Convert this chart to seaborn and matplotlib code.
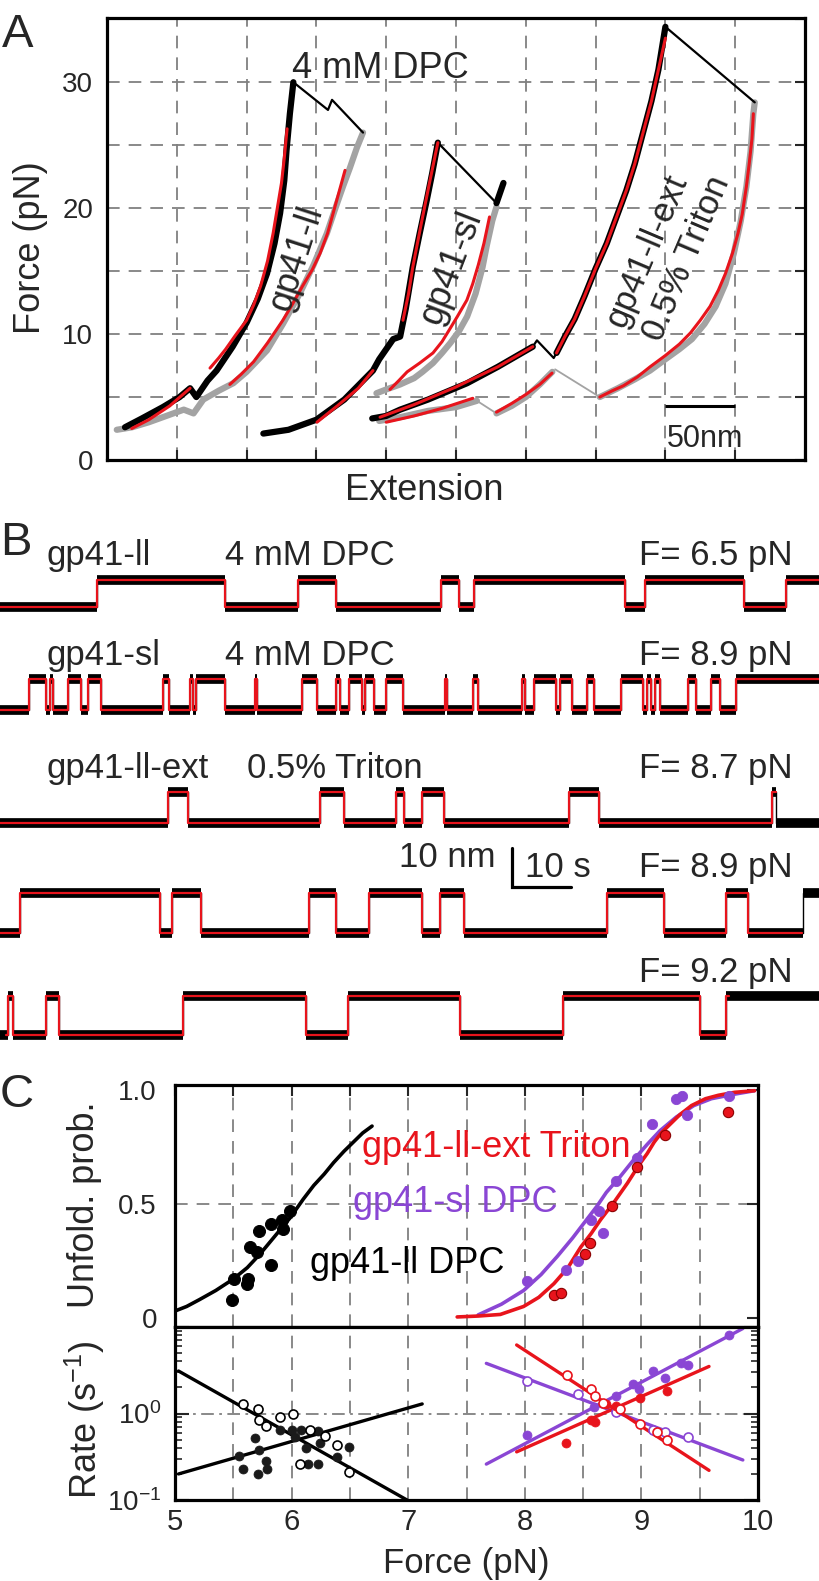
import matplotlib
matplotlib.use("Agg")
import matplotlib.pyplot as plt
import numpy as np
import seaborn as sns

# ---------------- Panel A : force-extension curves (nm, pN) ----------------
# gp41-ll in 4 mM DPC
ll_str_ext = [12.9, 25, 40, 52, 59.5, 64, 72, 78.5, 90, 100, 108, 114.6, 120, 124, 127, 128.6, 131, 133.5]
ll_str_f = [2.6, 3.3, 4.2, 5.0, 5.7, 5.0, 6.3, 7.1, 9.0, 10.9, 12.8, 14.8, 17.2, 19.6, 22.2, 24.6, 27.5, 30.0]
ll_jump_ext = [133.5, 158.3, 161.2, 183.4]
ll_jump_f = [30.0, 27.8, 28.6, 26.0]
ll_rel_ext = [183.4, 179, 174, 169, 163, 157.5, 148, 138, 126, 114.6, 100, 90.5, 80, 69, 62, 55, 45, 30, 18, 7]
ll_rel_f = [26.0, 24.8, 23.2, 21.7, 19.8, 18.0, 15.5, 13.2, 10.8, 8.7, 7.0, 6.1, 5.5, 4.8, 3.7, 4.0, 3.6, 3.0, 2.6, 2.4]
ll_fit1_ext = [17.7, 30, 45, 59.5]
ll_fit1_f = [2.5, 3.2, 4.3, 5.7]
ll_fit2_ext = [73.8, 80, 85, 92, 100, 105, 110, 115, 119, 122, 125, 127, 129]
ll_fit2_f = [7.3, 8.1, 8.8, 9.9, 11.1, 12.3, 13.8, 15.8, 18.0, 20.0, 22.0, 24.0, 26.3]
ll_fit3_ext = [88, 96, 105, 115, 126, 133, 140, 147, 152.6, 158, 162, 166, 170.5]
ll_fit3_f = [6.0, 6.8, 7.8, 9.3, 11.1, 12.4, 13.8, 15.1, 16.4, 18.0, 19.6, 21.2, 23.0]

# gp41-sl in 4 mM DPC
sl_str_ext = [112, 130, 150, 170, 190.5, 195, 200, 205, 210, 214, 219, 224, 229, 233, 237]
sl_str_f = [2.1, 2.4, 3.2, 4.8, 7.1, 8.0, 8.8, 9.6, 9.8, 12.0, 15.3, 18.0, 20.6, 22.8, 25.2]
sl_jump_ext = [237, 279]
sl_jump_f = [25.2, 20.4]
sl_tail_ext = [279, 284]
sl_tail_f = [20.4, 22.0]
sl_rel_ext = [279, 276, 272, 269, 264, 258, 252, 246, 240, 233.5, 226, 220, 210, 200, 193]
sl_rel_f = [20.1, 19.0, 17.0, 15.3, 13.2, 11.4, 10.2, 9.3, 8.5, 7.7, 7.0, 6.5, 6.0, 5.6, 5.3]
sl_fit1_ext = [150.4, 165, 180, 190.5]
sl_fit1_f = [3.0, 4.3, 5.7, 7.1]
sl_fit2_ext = [212, 216, 219, 225, 231, 237]
sl_fit2_f = [11.1, 13.2, 15.3, 18.7, 22.0, 25.2]
sl_fit3_ext = [202.7, 209, 215, 224, 233.5, 240, 245, 251, 257.8, 262, 266, 270, 274]
sl_fit3_f = [5.6, 6.3, 7.0, 7.7, 8.5, 9.4, 10.3, 11.4, 12.7, 14.0, 15.5, 17.2, 19.3]

# gp41-ll-ext in 0.5% Triton
ext_str1_ext = [190, 200, 210, 230, 258, 280, 305]
ext_str1_f = [3.3, 3.5, 4.0, 4.8, 6.1, 7.4, 9.0]
ext_z_ext = [305, 308, 320, 322]
ext_z_f = [9.0, 9.5, 8.1, 8.5]
ext_str2_ext = [322, 328, 335, 342, 350, 358, 365, 372, 378, 384, 390, 395, 400]
ext_str2_f = [8.5, 9.8, 11.2, 13.0, 15.2, 17.2, 19.3, 21.4, 23.5, 26.0, 28.5, 31.0, 34.4]
ext_jump_ext = [400, 464]
ext_jump_f = [34.4, 28.4]
ext_rel1_ext = [464, 463, 461, 458, 454, 449, 443, 436, 428, 419, 410, 400, 389, 378, 366, 353]
ext_rel1_f = [28.4, 27.5, 24.5, 21.7, 19.0, 16.4, 14.0, 12.2, 10.8, 9.6, 8.8, 8.0, 7.1, 6.4, 5.7, 5.0]
ext_thin1_ext = [353, 321]
ext_thin1_f = [5.0, 7.2]
ext_rel2_ext = [319, 310, 300, 290, 279]
ext_rel2_f = [7.0, 6.0, 5.0, 4.3, 3.7]
ext_thin2_ext = [279, 265]
ext_thin2_f = [3.7, 4.7]
ext_rel3_ext = [265, 250, 230, 210, 195]
ext_rel3_f = [4.7, 4.2, 3.9, 3.4, 3.1]
ext_fit1_ext = [195.6, 220, 250, 280, 305]
ext_fit1_f = [3.4, 4.4, 5.8, 7.4, 9.0]
ext_fit2_ext = [200, 220, 240, 262]
ext_fit2_f = [3.0, 3.5, 4.1, 4.9]
ext_fit3_ext = [279, 290, 300, 310, 318.8]
ext_fit3_f = [3.8, 4.5, 5.2, 6.0, 6.9]
ext_fit4_ext = [322, 328, 335, 342, 350, 358, 365, 372, 378, 384, 390, 395, 400]
ext_fit4_f = [8.5, 9.8, 11.2, 13.0, 15.2, 17.2, 19.3, 21.4, 23.5, 26.0, 28.5, 31.0, 33.5]
ext_fit5_ext = [353, 362, 370, 380, 389, 400, 410, 418, 425, 432, 438, 443, 448, 452, 455, 458, 460, 462, 463]
ext_fit5_f = [5.0, 5.5, 5.9, 6.6, 7.4, 8.3, 9.2, 10.1, 11.1, 12.2, 13.5, 14.8, 16.4, 18.0, 19.5, 21.7, 23.5, 25.5, 27.5]

# ---------------- Panel B : extension vs time traces ----------------
b_switch_1 = [16.4, 38.1, 50.5, 56.9, 74.7, 77.8, 80.3, 105.9, 109.3, 126.1, 133.2]
b_switch_2 = [4.9, 7.8, 8.5, 8.9, 11.6, 13.8, 14.9, 17.1, 27.6, 28.6, 32.2, 32.7, 33.2,
              38.1, 43.2, 43.6, 51.2, 53.8, 56.9, 57.7, 59.2, 61.4, 61.8, 63.4, 65.4,
              68.3, 75.4, 75.8, 80.1, 81.1, 88.5, 89.0, 90.6, 94.3, 95.0, 97.0, 99.5,
              100.7, 105.3, 109.0, 109.6, 110.3, 111.0, 111.9, 116.6, 117.9, 120.6,
              122.1, 124.8]
b_switch_3 = [28.5, 31.8, 54.3, 58.3, 67.2, 68.5, 71.6, 75.2, 96.5, 101.6, 130.8, 131.5]
b_switch_4 = [3.4, 27.1, 29.2, 34.1, 52.3, 56.9, 62.5, 71.6, 74.6, 78.7, 102.9, 112.5,
              123.0, 126.8, 136.1]
b_switch_5 = [1.3, 2.2, 7.8, 10.0, 31.1, 51.9, 59.0, 78.0, 95.5, 118.6, 123.1]
b_base = [113.6, 87.2, 58.2, 30.0, 3.8]      # nm offset of folded level
b_step = [6.9, 7.9, 8.0, 10.3, 10.0]         # nm step size
b_fit_start = [0.0, 0.0, 0.0, 0.0, 1.0]
b_fit_end = [139.0, 139.0, 131.5, 135.9, 123.6]
b_t_end = 139.0

# ---------------- Panel C : unfolding probability and rates ----------------
ll_pt_force = [5.49, 5.51, 5.63, 5.64, 5.70, 5.72, 5.82, 5.82, 5.92, 5.93, 5.99, 5.62]
ll_pt_prob = [0.08, 0.17, 0.17, 0.31, 0.29, 0.38, 0.23, 0.41, 0.43, 0.39, 0.47, 0.15]
ll_fit_force = [5.0, 5.1, 5.21, 5.35, 5.5, 5.62, 5.73, 5.86, 5.99, 6.1, 6.19, 6.28, 6.36,
                6.45, 6.53, 6.61, 6.69]
ll_fit_prob = [0.03, 0.05, 0.08, 0.12, 0.17, 0.22, 0.28, 0.36, 0.44, 0.52, 0.58, 0.63, 0.68,
               0.73, 0.77, 0.81, 0.84]

sl_pt_force = [8.02, 8.35, 8.46, 8.57, 8.64, 8.67, 8.78, 8.96, 9.09, 9.30, 9.35, 9.39, 9.75]
sl_pt_prob = [0.16, 0.21, 0.25, 0.43, 0.47, 0.37, 0.60, 0.70, 0.85, 0.96, 0.97, 0.89, 0.97]
sl_fit_force = [7.60, 7.8, 7.99, 8.14, 8.28, 8.41, 8.53, 8.62, 8.70, 8.82, 8.93, 9.05, 9.16,
                9.3, 9.45, 9.6, 9.8, 9.97]
sl_fit_prob = [0.013, 0.06, 0.12, 0.19, 0.27, 0.35, 0.43, 0.49, 0.55, 0.62, 0.69, 0.76, 0.82,
               0.88, 0.93, 0.96, 0.98, 0.995]

ext_pt_force = [8.25, 8.31, 8.52, 8.56, 8.75, 8.96, 9.20, 9.74]
ext_pt_prob = [0.10, 0.11, 0.28, 0.33, 0.49, 0.66, 0.80, 0.90]
ext_fit_force = [7.42, 7.6, 7.79, 7.99, 8.12, 8.25, 8.37, 8.48, 8.57, 8.65, 8.77, 8.88, 8.98,
                 9.05, 9.11, 9.17, 9.23, 9.33, 9.43, 9.55, 9.66, 9.8, 9.97]
ext_fit_prob = [0.004, 0.008, 0.015, 0.05, 0.09, 0.15, 0.22, 0.31, 0.37, 0.43, 0.51, 0.59, 0.67,
                0.72, 0.77, 0.81, 0.84, 0.89, 0.93, 0.96, 0.975, 0.988, 0.995]

# rates (1/s)
ll_open_force = [5.58, 5.71, 5.72, 5.78, 5.90, 6.01, 6.16, 6.29, 6.39, 6.07, 6.49]
ll_open_rate = [1.29, 1.13, 0.85, 0.71, 0.91, 1.0, 0.64, 0.55, 0.43, 0.26, 0.21]
ll_fill_force = [5.55, 5.58, 5.69, 5.72, 5.78, 5.71, 5.79, 5.90, 6.0, 6.03, 6.08, 6.12,
                 6.14, 6.23, 6.23, 6.24, 6.39, 6.49]
ll_fill_rate = [0.32, 0.23, 0.52, 0.38, 0.28, 0.20, 0.23, 0.65, 0.65, 0.54, 0.64, 0.40,
                0.26, 0.63, 0.26, 0.45, 0.31, 0.41]
ll_line_dn = ([5.03, 6.99], [3.1, 0.10])
ll_line_up = ([5.03, 7.12], [0.20, 1.29])

sl_fill_force = [8.02, 8.59, 8.78, 8.93, 8.98, 9.10, 9.20, 9.34, 9.40, 9.75]
sl_fill_rate = [0.56, 1.18, 1.6, 2.17, 1.91, 3.08, 2.58, 3.83, 3.67, 8.06]
sl_open_force = [8.02, 8.46, 8.78, 9.10, 9.20, 9.40]
sl_open_rate = [2.37, 1.67, 1.03, 0.64, 0.61, 0.54]
sl_line_dn = ([7.67, 9.87], [3.8, 0.29])
sl_line_up = ([7.67, 9.87], [0.26, 9.6])

ext_fill_force = [8.35, 8.57, 8.60, 8.70, 8.78, 8.99, 9.22]
ext_fill_rate = [0.45, 0.83, 0.80, 1.29, 1.23, 1.53, 1.83]
ext_open_force = [8.36, 8.57, 8.60, 8.67, 8.82, 8.99, 9.13, 9.22]
ext_open_rate = [2.82, 1.91, 1.60, 1.34, 1.13, 0.76, 0.61, 0.49]
ext_line_dn = ([7.93, 9.58], [6.2, 0.22])
ext_line_up = ([7.93, 9.58], [0.36, 3.5])

# ---------------- style ----------------
sns.set_style("white")
plt.rcParams['font.family'] = ['Liberation Sans', 'DejaVu Sans']
plt.rcParams['mathtext.fontset'] = 'custom'
plt.rcParams['mathtext.rm'] = 'Liberation Sans'
plt.rcParams['mathtext.it'] = 'Liberation Sans'

BLACK = '#000000'
GRAY = '#a3a3a3'
RED = '#e8141c'
PURPLE = '#8a46d4'
GRID = '#808080'

W, H = 820, 1581
fig = plt.figure(figsize=(W / 100, H / 100), dpi=100)


def box(l, t, r, b):
    return [l / W, 1 - b / H, (r - l) / W, (b - t) / H]


def ftext(x, y, s, **kw):
    fig.text(x / W, 1 - y / H, s, **kw)


def line(ax, xs, ys, color, lw):
    sns.lineplot(x=xs, y=ys, sort=False, estimator=None, color=color, lw=lw,
                 ax=ax, legend=False, solid_capstyle='round', solid_joinstyle='round')


def dgrid(ax, xs=(), ys=(), dashes=(7, 5)):
    for v in xs:
        ax.axvline(v, color=GRID, lw=1.3, dashes=dashes, zorder=0)
    for v in ys:
        ax.axhline(v, color=GRID, lw=1.3, dashes=dashes, zorder=0)


# ================= Panel A =================
axA = fig.add_axes(box(107, 18, 805, 460))
dgrid(axA, xs=range(50, 500, 50), ys=range(5, 35, 5))

for xs, ys in [(ll_rel_ext, ll_rel_f), (sl_rel_ext, sl_rel_f), (ext_rel1_ext, ext_rel1_f),
               (ext_rel2_ext, ext_rel2_f), (ext_rel3_ext, ext_rel3_f)]:
    line(axA, xs, ys, GRAY, 4.5)
for xs, ys in [(ext_thin1_ext, ext_thin1_f), (ext_thin2_ext, ext_thin2_f)]:
    line(axA, xs, ys, GRAY, 1.3)
for xs, ys in [(ll_str_ext, ll_str_f), (sl_str_ext, sl_str_f), (sl_tail_ext, sl_tail_f),
               (ext_str1_ext, ext_str1_f), (ext_str2_ext, ext_str2_f)]:
    line(axA, xs, ys, BLACK, 4.5)
for xs, ys in [(ll_jump_ext, ll_jump_f), (sl_jump_ext, sl_jump_f), (ext_z_ext, ext_z_f),
               (ext_jump_ext, ext_jump_f)]:
    line(axA, xs, ys, BLACK, 1.6)
for xs, ys in [(ll_fit1_ext, ll_fit1_f), (ll_fit2_ext, ll_fit2_f), (ll_fit3_ext, ll_fit3_f),
               (sl_fit1_ext, sl_fit1_f), (sl_fit2_ext, sl_fit2_f), (sl_fit3_ext, sl_fit3_f),
               (ext_fit1_ext, ext_fit1_f), (ext_fit2_ext, ext_fit2_f), (ext_fit3_ext, ext_fit3_f),
               (ext_fit4_ext, ext_fit4_f), (ext_fit5_ext, ext_fit5_f)]:
    line(axA, xs, ys, RED, 2.2)

# 50 nm scale bar
axA.plot([400, 450], [4.3, 4.3], color=BLACK, lw=2.2, solid_capstyle='butt')

axA.set_xlim(0, 500)
axA.set_ylim(0, 35.1)
axA.set_xticks(range(0, 501, 50))
axA.set_xticklabels([])
axA.set_yticks(range(0, 36, 5))
axA.set_yticklabels(['0', '', '10', '', '20', '', '30', ''])
axA.tick_params(direction='in', length=7, width=1.5, bottom=True, right=True, left=False,
                labelsize=20, pad=10)
axA.set_xlabel('')
axA.set_ylabel('')
for sp in axA.spines.values():
    sp.set_linewidth(2.3)
    sp.set_color(BLACK)

ftext(2, 47, 'A', fontsize=34, va='baseline')
ftext(31, 248, 'Force (pN)', fontsize=26, rotation=90, ha='center', va='center')
ftext(424, 500, 'Extension', fontsize=26, ha='center', va='baseline')
ftext(292, 78, '4 mM DPC', fontsize=26, va='baseline')
ftext(667, 447, '50nm', fontsize=22, va='baseline')
ftext(297, 258, 'gp41-ll', fontsize=26, rotation=72, ha='center', va='center',
      rotation_mode='anchor')
ftext(451, 268, 'gp41-sl', fontsize=26, rotation=69, ha='center', va='center',
      rotation_mode='anchor')
ftext(647, 251, 'gp41-ll-ext', fontsize=25, rotation=67, ha='center', va='center',
      rotation_mode='anchor')
ftext(687, 258, '0.5% Triton', fontsize=25, rotation=67, ha='center', va='center',
      rotation_mode='anchor')

# ================= Panel B =================
axB = fig.add_axes(box(0, 495, 820, 1050))
switches = [b_switch_1, b_switch_2, b_switch_3, b_switch_4, b_switch_5]
for k, sw in enumerate(switches):
    edges = [0.0] + sw + [b_t_end]
    lev = [b_base[k] + b_step[k] * (i % 2) for i in range(len(edges) - 1)]
    axB.step(edges, lev + [lev[-1]], where='post', color=BLACK, lw=1.0)
    axB.hlines(lev, edges[:-1], edges[1:], color=BLACK, lw=7, capstyle='butt')
    t0, t1 = b_fit_start[k], b_fit_end[k]
    r_edges = [t0] + [t for t in sw if t0 < t < t1] + [t1]
    r_lev = [b_base[k] + b_step[k] * (np.searchsorted(sw, t, side='right') % 2)
             for t in r_edges[:-1]]
    axB.step(r_edges, r_lev + [r_lev[-1]], where='post', color=RED, lw=1.6)

# 10 nm / 10 s scale bar
axB.plot([86.8, 86.8, 96.8], [51.8, 41.8, 41.8], color=BLACK, lw=2.3,
         solid_joinstyle='miter')
axB.set_xlim(0, 139)
axB.set_ylim(0, 142.3)
axB.axis('off')

ftext(0, 555, 'B', fontsize=34, va='baseline')
ftext(47, 565, 'gp41-ll', fontsize=25, va='baseline')
ftext(225, 565, '4 mM DPC', fontsize=25, va='baseline')
ftext(793, 565, 'F= 6.5 pN', fontsize=25, va='baseline', ha='right')
ftext(47, 665, 'gp41-sl', fontsize=25, va='baseline')
ftext(225, 665, '4 mM DPC', fontsize=25, va='baseline')
ftext(793, 665, 'F= 8.9 pN', fontsize=25, va='baseline', ha='right')
ftext(47, 778, 'gp41-ll-ext', fontsize=25, va='baseline')
ftext(247, 778, '0.5% Triton', fontsize=25, va='baseline')
ftext(793, 778, 'F= 8.7 pN', fontsize=25, va='baseline', ha='right')
ftext(496, 867, '10 nm', fontsize=25, va='baseline', ha='right')
ftext(525, 877, '10 s', fontsize=25, va='baseline')
ftext(793, 877, 'F= 8.9 pN', fontsize=25, va='baseline', ha='right')
ftext(793, 982, 'F= 9.2 pN', fontsize=25, va='baseline', ha='right')

# ================= Panel C (top) =================
axC1 = fig.add_axes(box(175, 1085, 758, 1327))
dgrid(axC1, xs=np.arange(5.5, 10, 0.5), ys=[0.5])
line(axC1, ll_fit_force, ll_fit_prob, BLACK, 2.6)
line(axC1, sl_fit_force, sl_fit_prob, PURPLE, 2.6)
line(axC1, ext_fit_force, ext_fit_prob, RED, 2.6)
sns.scatterplot(x=ll_pt_force, y=ll_pt_prob, color=BLACK, edgecolor=BLACK, s=75, ax=axC1,
                zorder=3)
sns.scatterplot(x=sl_pt_force, y=sl_pt_prob, color=PURPLE, edgecolor=PURPLE, s=55, ax=axC1,
                zorder=3)
sns.scatterplot(x=ext_pt_force, y=ext_pt_prob, color=RED, edgecolor='#8a0000', s=55,
                linewidth=0.8, ax=axC1, zorder=3)
axC1.set_xlim(5, 10)
axC1.set_ylim(-0.04, 1.02)
axC1.set_xticks(np.arange(5, 10.01, 0.5))
axC1.set_yticks([0, 0.5, 1.0])
axC1.set_yticklabels(['0', '0.5', '1.0'])
axC1.tick_params(direction='in', length=8, width=1.5, top=True, bottom=False, left=False,
                 right=True, labelbottom=False, labelsize=20, pad=13)
axC1.set_xlabel('')
axC1.set_ylabel('')

# ================= Panel C (bottom) =================
axC2 = fig.add_axes(box(175, 1327, 758, 1500))
axC2.set_yscale('log')
dgrid(axC2, xs=np.arange(5.5, 10, 0.5))
dgrid(axC2, ys=[1.0], dashes=(7, 3, 1.5, 3))
for (xs, ys), c in [(ll_line_dn, BLACK), (ll_line_up, BLACK), (sl_line_dn, PURPLE),
                    (sl_line_up, PURPLE), (ext_line_dn, RED), (ext_line_up, RED)]:
    line(axC2, xs, ys, c, 2.4)
sns.scatterplot(x=ll_fill_force, y=ll_fill_rate, color='#1a1a1a', edgecolor='#1a1a1a', s=42,
                ax=axC2, zorder=3)
sns.scatterplot(x=ll_open_force, y=ll_open_rate, facecolor='white', edgecolor=BLACK, s=42,
                linewidth=1.2, ax=axC2, zorder=3)
sns.scatterplot(x=sl_fill_force, y=sl_fill_rate, color=PURPLE, edgecolor=PURPLE, s=42,
                ax=axC2, zorder=3)
sns.scatterplot(x=sl_open_force, y=sl_open_rate, facecolor='white', edgecolor=PURPLE, s=42,
                linewidth=1.2, ax=axC2, zorder=3)
sns.scatterplot(x=ext_fill_force, y=ext_fill_rate, color=RED, edgecolor=RED, s=42,
                ax=axC2, zorder=3)
sns.scatterplot(x=ext_open_force, y=ext_open_rate, facecolor='white', edgecolor=RED, s=42,
                linewidth=1.2, ax=axC2, zorder=3)
axC2.set_xlim(5, 10)
axC2.set_ylim(0.1, 10)
axC2.set_xticks(range(5, 11))
axC2.set_xticklabels([str(v) for v in range(5, 11)])
axC2.set_yticks([0.1, 1, 10])
axC2.set_yticklabels([r'$\mathregular{10^{-1}}$', r'$\mathregular{10^{0}}$', ''])
axC2.tick_params(which='major', direction='in', length=10, width=1.5, left=True, right=True,
                 bottom=False, labelsize=20, pad=10)
axC2.tick_params(axis='x', labelsize=21, pad=6)
axC2.tick_params(which='minor', direction='in', length=5, width=1.2, left=True, right=True)
axC2.set_xlabel('')
axC2.set_ylabel('')

for ax in (axC1, axC2):
    for sp in ax.spines.values():
        sp.set_linewidth(2.3)
        sp.set_color(BLACK)

ftext(0, 1107, 'C', fontsize=34, va='baseline')
ftext(85, 1205, 'Unfold. prob.', fontsize=26, rotation=90, ha='center', va='center')
ftext(85, 1420, r'Rate (s$^{\mathregular{-1}}$)', fontsize=26, rotation=90, ha='center',
      va='center')
ftext(466, 1573, 'Force (pN)', fontsize=25, ha='center', va='baseline')
ftext(362, 1157, 'gp41-ll-ext Triton', fontsize=26, color=RED, va='baseline')
ftext(353, 1212, 'gp41-sl DPC', fontsize=26, color=PURPLE, va='baseline')
ftext(310, 1273, 'gp41-ll DPC', fontsize=26, color=BLACK, va='baseline')

fig.savefig('out.png', dpi=100)
